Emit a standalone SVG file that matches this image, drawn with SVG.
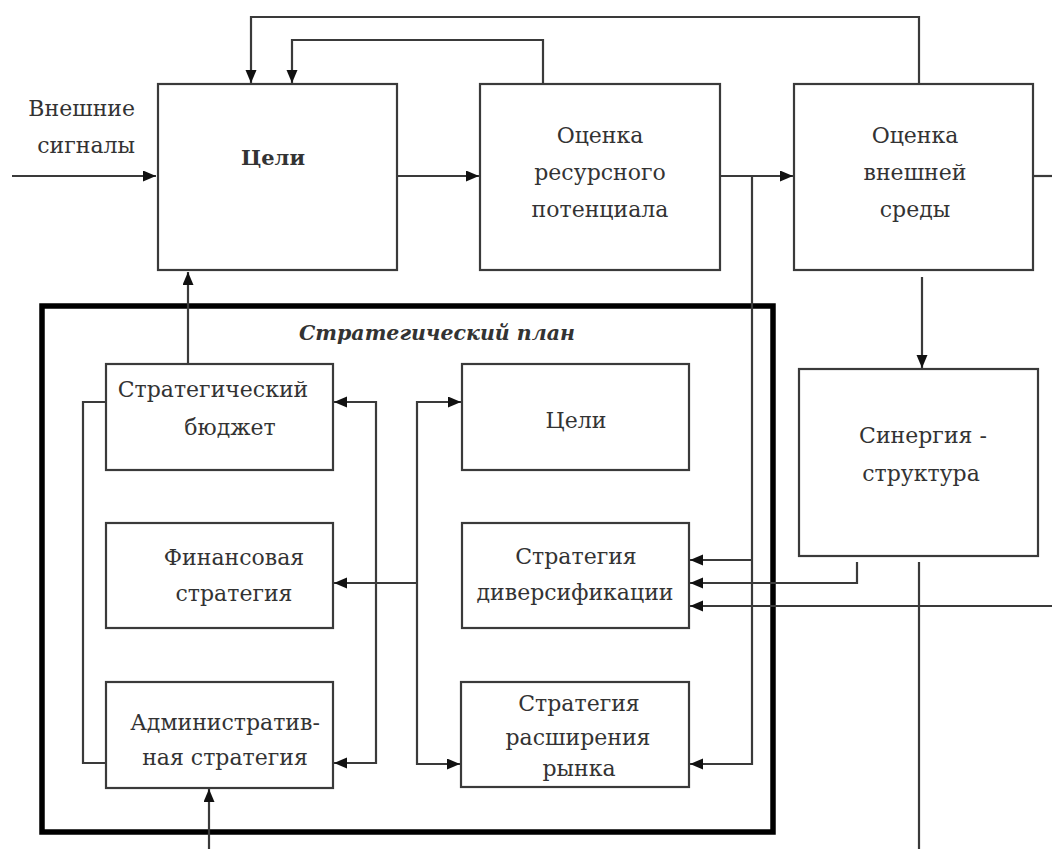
<svg xmlns="http://www.w3.org/2000/svg" width="1052" height="849" viewBox="0 0 1052 849">
  <style>
    .box { fill: #ffffff; stroke: #3a3a3a; stroke-width: 2.2; }
    .plan { fill: none; stroke: #000000; stroke-width: 5.5; }
    .wire { fill: none; stroke: #3a3a3a; stroke-width: 2.2; }
    .lbl { font-family: 'DejaVu Serif', serif; font-size: 22px; fill: #333333; text-anchor: middle; }
    .bold { font-weight: bold; font-size: 21px; }
    .title { font-weight: bold; font-style: italic; font-size: 20.5px; }
    .side { text-anchor: end; }
  </style>
  <defs>
    <marker id="arrow" markerUnits="userSpaceOnUse" markerWidth="14" markerHeight="12" refX="13" refY="5.5" orient="auto">
      <path d="M0,0 L13,5.5 L0,11 z" fill="#111111"/>
    </marker>
  </defs>

  <rect id="plan-frame" class="plan" x="42" y="306" width="731" height="526"/>

  <g id="connectors">
    <!-- external input and top chain -->
    <path class="wire" d="M12,176 H156" marker-end="url(#arrow)"/>
    <path class="wire" d="M397,176 H479" marker-end="url(#arrow)"/>
    <path class="wire" d="M720,176 H793" marker-end="url(#arrow)"/>
    <path class="wire" d="M1028,176 H1052"/>
    <!-- feedback loops back to goals -->
    <path class="wire" d="M919,84 V17 H251 V83" marker-end="url(#arrow)"/>
    <path class="wire" d="M543,84 V40 H292 V83" marker-end="url(#arrow)"/>
    <!-- environment to synergy -->
    <path class="wire" d="M922,277 V368" marker-end="url(#arrow)"/>
    <!-- budget up to goals -->
    <path class="wire" d="M188,364 V272" marker-end="url(#arrow)"/>
    <!-- resource branch down to strategies -->
    <path class="wire" d="M752,176 V764 H690" marker-end="url(#arrow)"/>
    <path class="wire" d="M752,560 H690" marker-end="url(#arrow)"/>
    <path class="wire" d="M857,562 V583 H690" marker-end="url(#arrow)"/>
    <path class="wire" d="M1052,606 H690" marker-end="url(#arrow)"/>
    <path class="wire" d="M919,562 V849"/>
    <!-- left loop -->
    <path class="wire" d="M106,402 H83 V763 H106"/>
    <!-- right bus of left column -->
    <path class="wire" d="M376,583 V402 H334" marker-end="url(#arrow)"/>
    <path class="wire" d="M376,583 V763 H334" marker-end="url(#arrow)"/>
    <!-- bus from right column -->
    <path class="wire" d="M417,583 V402 H461" marker-end="url(#arrow)"/>
    <path class="wire" d="M417,583 V764 H460" marker-end="url(#arrow)"/>
    <path class="wire" d="M417,583 H334" marker-end="url(#arrow)"/>
    <!-- input to administrative strategy -->
    <path class="wire" d="M209,849 V789" marker-end="url(#arrow)"/>
  </g>

  <g id="external-signals">
    <text class="lbl side" x="135" y="116">Внешние</text>
    <text class="lbl side" x="135" y="153">сигналы</text>
  </g>

  <g id="goals">
    <rect class="box" x="158" y="84" width="239" height="186"/>
    <text class="lbl bold" x="273" y="165">Цели</text>
  </g>

  <g id="resource-assessment">
    <rect class="box" x="480" y="84" width="240" height="186"/>
    <text class="lbl" x="600" y="143">Оценка</text>
    <text class="lbl" x="600" y="180">ресурсного</text>
    <text class="lbl" x="600" y="217">потенциала</text>
  </g>

  <g id="environment-assessment">
    <rect class="box" x="794" y="84" width="239" height="186"/>
    <text class="lbl" x="915" y="143">Оценка</text>
    <text class="lbl" x="915" y="180">внешней</text>
    <text class="lbl" x="915" y="217">среды</text>
  </g>

  <g id="synergy">
    <rect class="box" x="799" y="369" width="239" height="187"/>
    <text class="lbl" x="923" y="443">Синергия -</text>
    <text class="lbl" x="921" y="481">структура</text>
  </g>

  <g id="plan-title">
    <text class="lbl title" x="437" y="340">Стратегический план</text>
  </g>

  <g id="strategic-budget">
    <rect class="box" x="106" y="364" width="227" height="106"/>
    <text class="lbl" x="213" y="397">Стратегический</text>
    <text class="lbl" x="230" y="435">бюджет</text>
  </g>

  <g id="financial-strategy">
    <rect class="box" x="106" y="523" width="227" height="105"/>
    <text class="lbl" x="234" y="565">Финансовая</text>
    <text class="lbl" x="234" y="601">стратегия</text>
  </g>

  <g id="administrative-strategy">
    <rect class="box" x="106" y="682" width="227" height="106"/>
    <text class="lbl" x="225" y="730">Административ-</text>
    <text class="lbl" x="225" y="765">ная стратегия</text>
  </g>

  <g id="plan-goals">
    <rect class="box" x="462" y="364" width="227" height="106"/>
    <text class="lbl" x="576" y="428">Цели</text>
  </g>

  <g id="diversification-strategy">
    <rect class="box" x="462" y="523" width="227" height="105"/>
    <text class="lbl" x="576" y="564">Стратегия</text>
    <text class="lbl" x="575" y="600">диверсификации</text>
  </g>

  <g id="market-expansion-strategy">
    <rect class="box" x="461" y="682" width="228" height="105"/>
    <text class="lbl" x="579" y="711">Стратегия</text>
    <text class="lbl" x="578" y="745">расширения</text>
    <text class="lbl" x="579" y="776">рынка</text>
  </g>
</svg>
